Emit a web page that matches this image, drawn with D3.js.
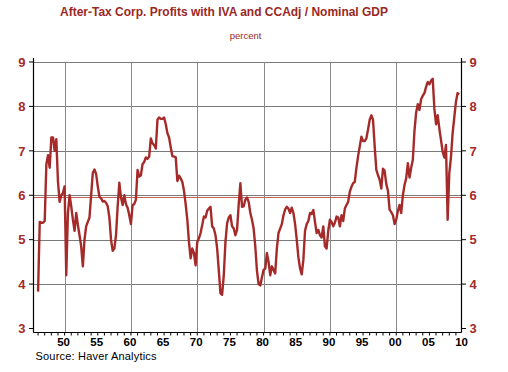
<!DOCTYPE html>
<html>
<head>
<meta charset="utf-8">
<script src="https://cdn.jsdelivr.net/npm/d3@7"></script>
<style>
  body { margin: 0; background: #fff; }
  text { font-family: "Liberation Sans", Arial, sans-serif; }
</style>
</head>
<body>
<div id="chart"></div>
<script>
// quarterly series, as placed on the chart's time axis
const startYear = 1946;
const profitShare = [
  3.83, 5.4, 5.38, 5.38, 5.42, 6.7, 6.9, 6.62, 7.3, 7.3, 7.0, 7.26, 6.3, 5.85, 6.0, 6.05,
  6.2, 4.2, 5.6, 6.0, 5.75, 5.45, 5.2, 5.6, 5.33, 5.1, 4.85, 4.4, 5.0, 5.3, 5.4, 5.5,
  6.0, 6.5, 6.58, 6.48, 6.2, 5.97, 5.93, 5.86, 5.87, 5.83, 5.75, 5.5, 5.0, 4.75, 4.8, 5.1,
  5.75, 6.28, 5.95, 5.78, 6.0, 5.8, 5.72, 5.55, 5.35, 5.78, 5.8, 5.9, 6.57, 6.42, 6.45, 6.7,
  6.75, 6.85, 6.82, 6.87, 7.28, 7.17, 7.13, 7.05, 7.7, 7.75, 7.72, 7.72, 7.75, 7.6, 7.4, 7.3,
  7.08, 6.88, 6.87, 6.86, 6.32, 6.44, 6.38, 6.3, 6.1, 5.8, 5.45, 4.95, 4.58, 4.8, 4.7, 4.42,
  4.95, 5.03, 5.15, 5.33, 5.52, 5.5, 5.65, 5.7, 5.74, 5.3, 5.25, 5.1, 4.8, 4.3, 3.79, 3.76,
  4.2, 4.95, 5.37, 5.5, 5.55, 5.3, 5.25, 5.1, 5.22, 5.8, 6.27, 5.74, 5.75, 5.9, 5.95, 5.85,
  5.6, 5.45, 5.25, 4.85, 4.3, 4.0, 3.97, 4.15, 4.32, 4.35, 4.7, 4.5, 4.2, 4.4, 4.32, 4.24,
  4.8, 5.15, 5.25, 5.35, 5.55, 5.68, 5.74, 5.7, 5.6, 5.72, 5.6, 5.35, 5.0, 4.6, 4.35, 4.22,
  4.55, 5.2, 5.35, 5.42, 5.6, 5.58, 5.67, 5.4, 5.15, 5.22, 5.1, 5.05, 5.3, 4.85, 4.8, 5.2,
  5.45, 5.4, 5.3, 5.38, 5.52, 5.5, 5.3, 5.55, 5.42, 5.7, 5.78, 5.85, 6.08, 6.19, 6.27, 6.3,
  6.62, 6.88, 7.1, 7.32, 7.22, 7.22, 7.28, 7.48, 7.7, 7.8, 7.7, 7.1, 6.57, 6.45, 6.35, 6.15,
  6.6, 6.55, 6.25, 6.1, 5.67, 5.62, 5.55, 5.35, 5.45, 5.65, 5.78, 5.6, 6.0, 6.23, 6.38, 6.72,
  6.4, 6.62, 6.8, 7.45, 7.86, 8.05, 7.92, 8.16, 8.24, 8.3, 8.44, 8.55, 8.5, 8.58, 8.62, 7.95,
  7.6, 7.8, 7.5, 7.24, 6.98, 6.85, 7.13, 5.45, 6.5, 6.85, 7.4, 7.75, 8.1, 8.3, 8.27
];
const yTicks = [3, 4, 5, 6, 7, 8, 9];
const xLabelYears = [1950, 1955, 1960, 1965, 1970, 1975, 1980, 1985, 1990, 1995, 2000, 2005, 2010];
const gridYears = [1950, 1960, 1970, 1980, 1990, 2000];
const refLevel = 5.97;   // red reference line just under 6

const W = 508, H = 372;
const plotL = 33.5, plotR = 461.5, plotT = 62, plotB = 328.5, axisY = 332.5;
const red = "#a52a2a";

const svg = d3.select("#chart").append("svg")
    .attr("width", W)
    .attr("height", H);

const x = d3.scaleLinear().domain([1945.31, 2009.84]).range([plotL, plotR]);
const y = d3.scaleLinear().domain([3, 9]).range([plotB, plotT]);

// gridlines
svg.append("g")
  .selectAll("line")
  .data(yTicks.slice(1))
  .join("line")
    .attr("x1", plotL).attr("x2", plotR)
    .attr("y1", d => Math.round(y(d)) + 0.5)
    .attr("y2", d => Math.round(y(d)) + 0.5)
    .attr("stroke", "#7a7a7a")
    .attr("stroke-width", 1);

svg.append("g")
  .selectAll("line")
  .data(gridYears)
  .join("line")
    .attr("x1", d => Math.round(x(d)) + 0.5)
    .attr("x2", d => Math.round(x(d)) + 0.5)
    .attr("y1", plotT).attr("y2", axisY)
    .attr("stroke", "#8a8a8a")
    .attr("stroke-width", 1);

svg.append("line")
    .attr("x1", plotL).attr("x2", plotR)
    .attr("y1", Math.round(y(refLevel)) + 0.5)
    .attr("y2", Math.round(y(refLevel)) + 0.5)
    .attr("stroke", "#c8605c")
    .attr("stroke-width", 1);

// axes frame
const frame = svg.append("g").attr("stroke", "#000").attr("stroke-width", 1.2);
frame.append("line").attr("x1", plotL).attr("x2", plotL).attr("y1", plotT - 4).attr("y2", axisY);
frame.append("line").attr("x1", plotR).attr("x2", plotR).attr("y1", plotT - 4).attr("y2", axisY);
frame.append("line").attr("x1", plotL).attr("x2", plotR).attr("y1", axisY).attr("y2", axisY);

// y ticks + labels both sides
const yl = svg.append("g");
yl.selectAll("line.l").data(yTicks).join("line")
    .attr("class", "l")
    .attr("x1", plotL - 4.5).attr("x2", plotL)
    .attr("y1", d => y(d)).attr("y2", d => y(d))
    .attr("stroke", "#000");
yl.selectAll("line.r").data(yTicks).join("line")
    .attr("class", "r")
    .attr("x1", plotR).attr("x2", plotR + 4.5)
    .attr("y1", d => y(d)).attr("y2", d => y(d))
    .attr("stroke", "#000");
yl.selectAll("text.l").data(yTicks).join("text")
    .attr("class", "l")
    .attr("x", 25.5).attr("y", d => y(d))
    .attr("dy", "0.36em")
    .attr("text-anchor", "end")
    .attr("fill", red)
    .style("font-size", "13px").style("font-weight", "bold")
    .text(d => d);
yl.selectAll("text.r").data(yTicks).join("text")
    .attr("class", "r")
    .attr("x", 469.5).attr("y", d => y(d))
    .attr("dy", "0.36em")
    .attr("fill", red)
    .style("font-size", "13px").style("font-weight", "bold")
    .text(d => d);

// year minor ticks
svg.append("g")
  .selectAll("line")
  .data(d3.range(1946, 2010))
  .join("line")
    .attr("x1", d => x(d)).attr("x2", d => x(d))
    .attr("y1", axisY).attr("y2", axisY + 3)
    .attr("stroke", "#000");

svg.append("g")
  .selectAll("text")
  .data(xLabelYears)
  .join("text")
    .attr("x", d => x(d) - 1)
    .attr("y", 346)
    .attr("text-anchor", "middle")
    .style("font-size", "11.5px").style("font-weight", "bold")
    .text(d => d3.format("02d")(d % 100));

// series line
const line = d3.line()
    .x((d, i) => x(startYear + i * 0.25))
    .y(d => y(d));

svg.append("path")
    .datum(profitShare)
    .attr("fill", "none")
    .attr("stroke", red)
    .attr("stroke-width", 2.4)
    .attr("stroke-linejoin", "round")
    .attr("d", line);

// titles
svg.append("text")
    .attr("x", 224).attr("y", 16)
    .attr("text-anchor", "middle")
    .attr("fill", "#9a2824")
    .attr("textLength", 328)
    .attr("lengthAdjust", "spacingAndGlyphs")
    .style("font-size", "12.5px").style("font-weight", "bold")
    .text("After-Tax Corp.  Profits with IVA and CCAdj / Nominal GDP");

svg.append("text")
    .attr("x", 245.5).attr("y", 38.5)
    .attr("text-anchor", "middle")
    .attr("fill", "#9a2824")
    .style("font-size", "9.5px")
    .text("percent");

svg.append("text")
    .attr("x", 35.5).attr("y", 359.5)
    .attr("textLength", 121)
    .style("font-size", "11px")
    .text("Source: Haver Analytics");
</script>
</body>
</html>
